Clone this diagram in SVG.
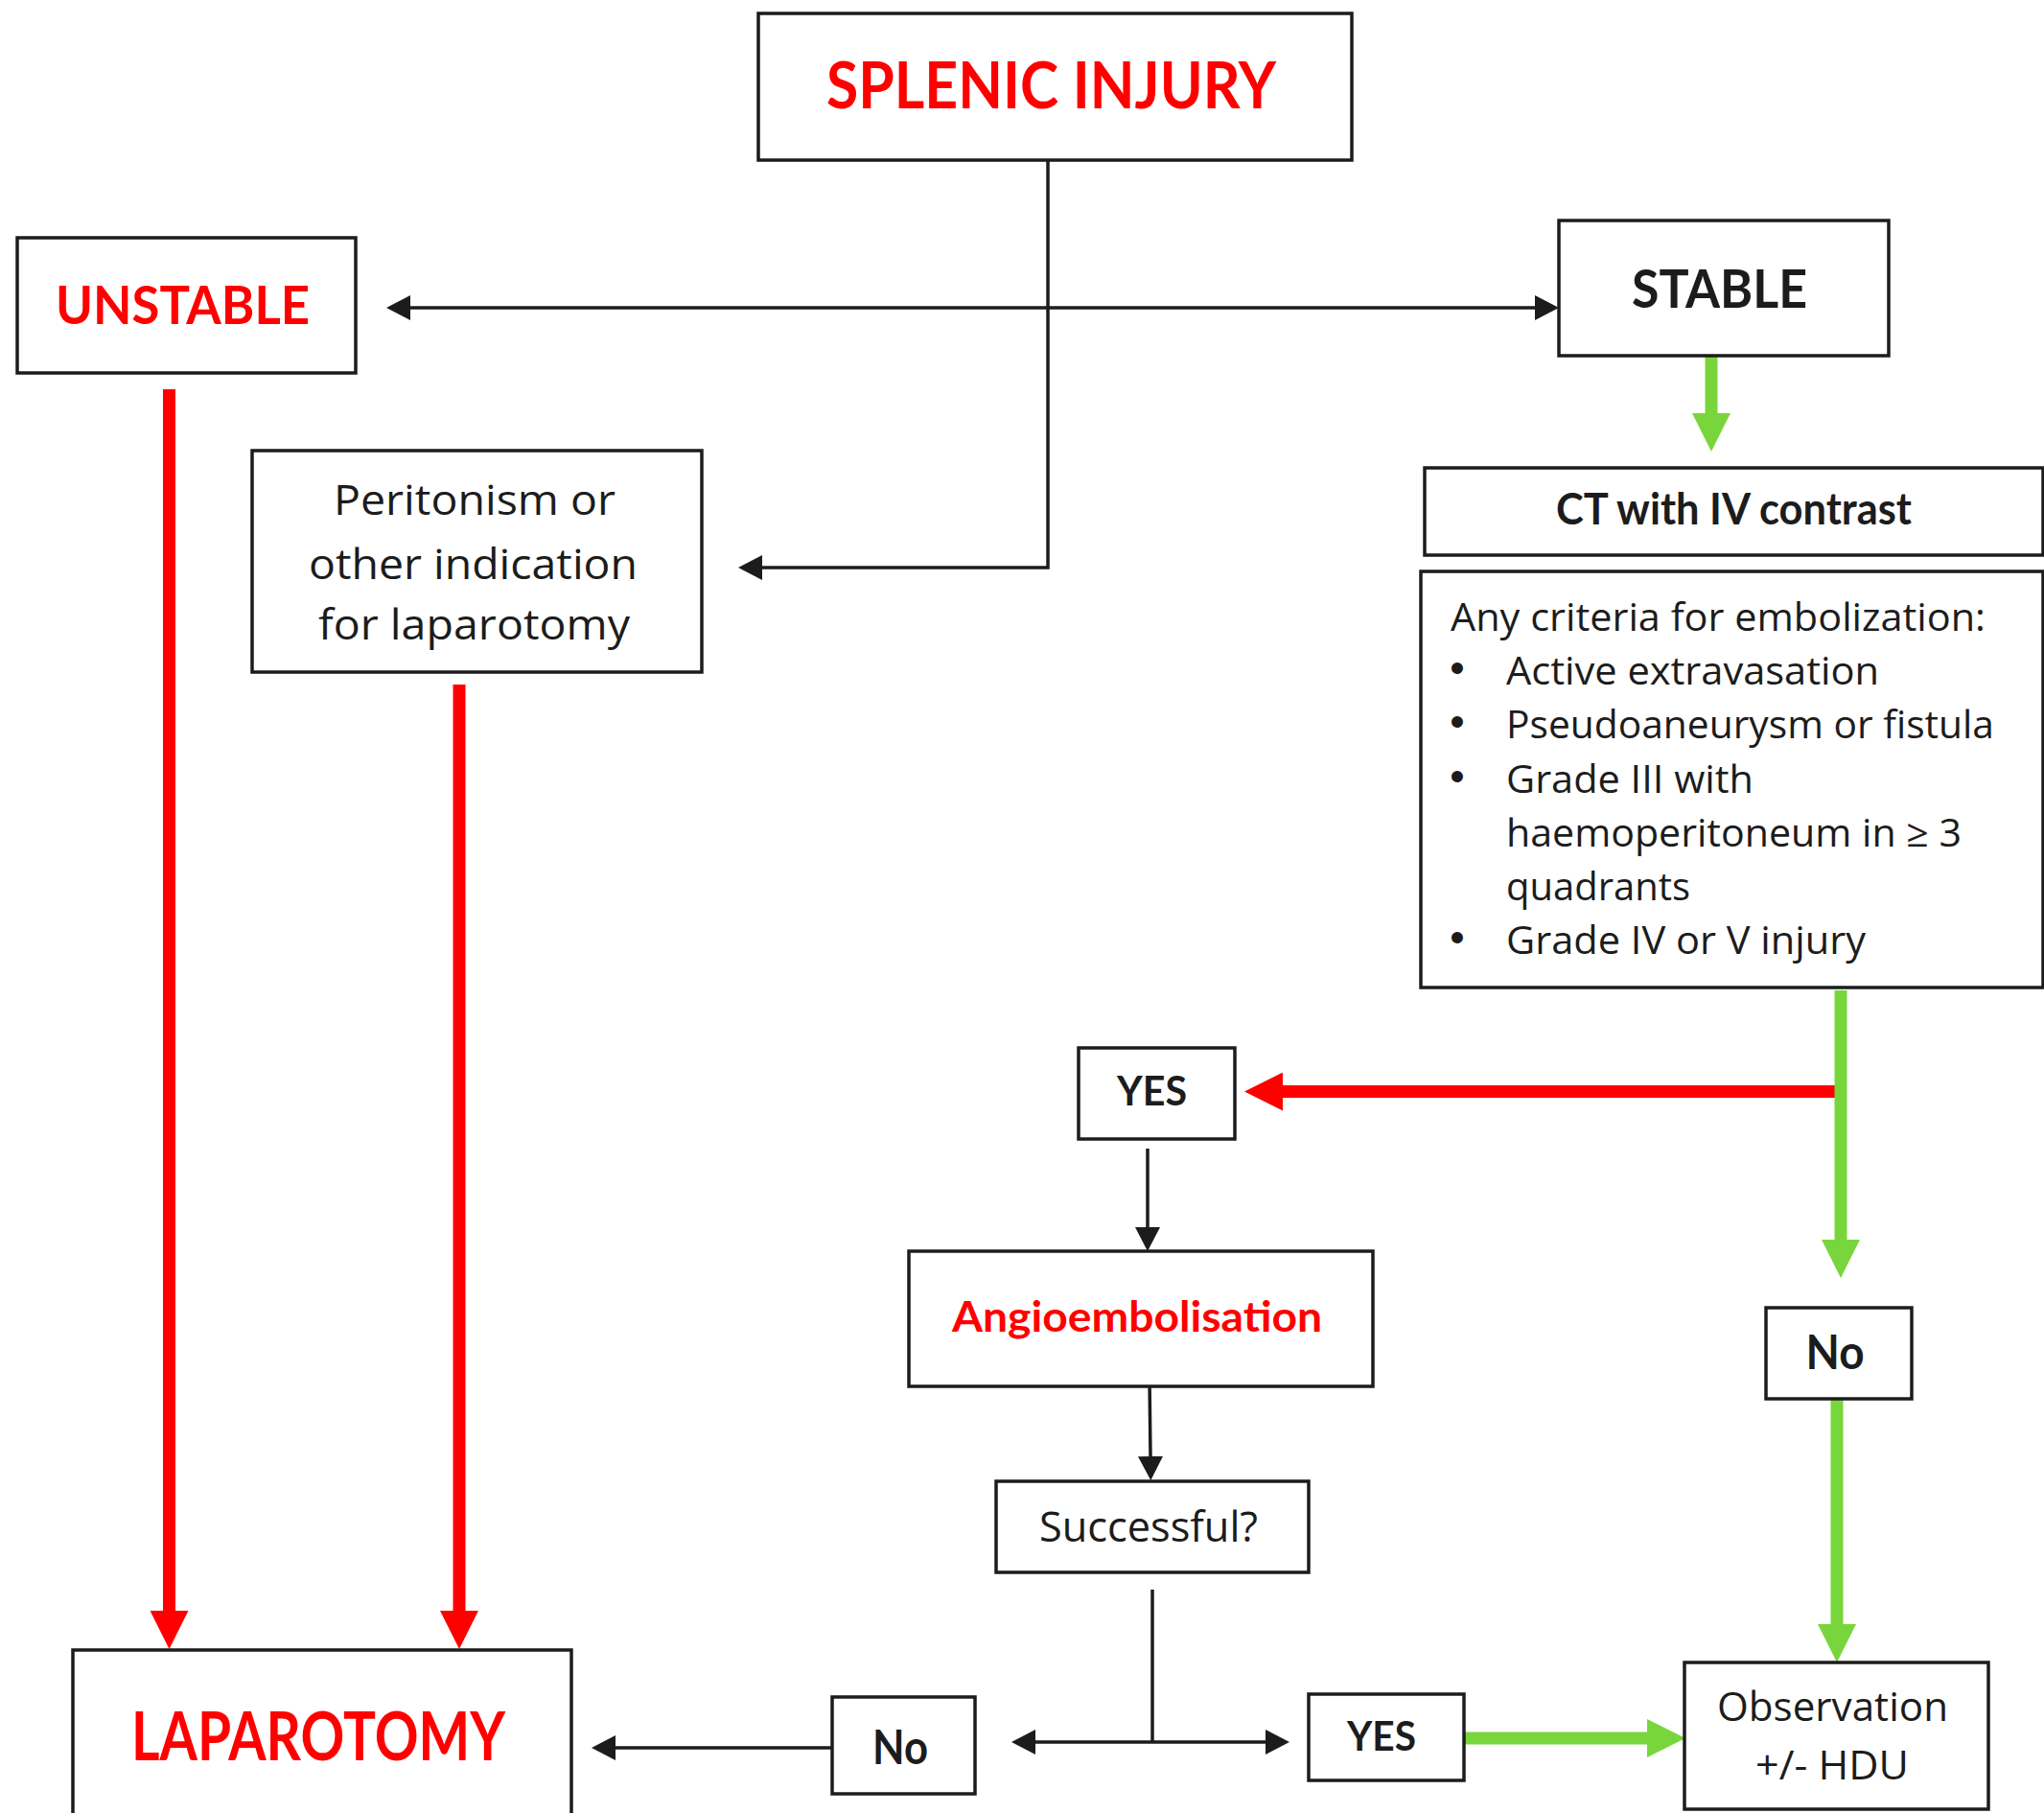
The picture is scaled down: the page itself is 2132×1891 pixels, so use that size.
<svg xmlns="http://www.w3.org/2000/svg" width="2132" height="1891" viewBox="0 0 2132 1891">
<style>
.box{fill:#fff;stroke:#1c1c1c;stroke-width:3.5}
.b{font-family:Lato,'Liberation Sans',sans-serif;font-weight:700}
.r{font-family:'Open Sans','Liberation Sans',sans-serif;font-weight:400}
.red{fill:#ff0000}
.k{fill:#1c1c1c}
.c{text-anchor:middle}
.ln{fill:none;stroke:#1c1c1c;stroke-width:3.5}
.rl{fill:none;stroke:#ff0000;stroke-width:13}
.gl{fill:none;stroke:#78d63c;stroke-width:13}
.bul{font-family:'Liberation Sans',sans-serif;font-size:44px;text-anchor:middle;fill:#1c1c1c}
</style>
<defs>
<marker id="ak" markerUnits="userSpaceOnUse" markerWidth="26" markerHeight="26" refX="0" refY="13" orient="auto-start-reverse"><path d="M0,0 L25,13 L0,26 Z" fill="#1c1c1c"/></marker>
<marker id="ar" markerUnits="userSpaceOnUse" markerWidth="41" markerHeight="40" refX="0" refY="20" orient="auto"><path d="M0,0 L40,20 L0,40 Z" fill="#ff0000"/></marker>
<marker id="ag" markerUnits="userSpaceOnUse" markerWidth="41" markerHeight="40" refX="0" refY="20" orient="auto"><path d="M0,0 L40,20 L0,40 Z" fill="#78d63c"/></marker>
</defs>
<rect width="2132" height="1891" fill="#fff"/>

<g id="connectors">
<path class="ln" d="M1093,167 V592 H795" marker-end="url(#ak)"/>
<line class="ln" x1="428" y1="321" x2="1601" y2="321" marker-start="url(#ak)" marker-end="url(#ak)"/>
<line class="rl" x1="176.5" y1="406" x2="176.5" y2="1680" marker-end="url(#ar)"/>
<line class="rl" x1="479" y1="714" x2="479" y2="1680" marker-end="url(#ar)"/>
<line class="gl" x1="1785" y1="362" x2="1785" y2="431" marker-end="url(#ag)"/>
<line class="rl" x1="1920" y1="1138.5" x2="1338" y2="1138.5" marker-end="url(#ar)"/>
<line class="gl" x1="1920" y1="1033" x2="1920" y2="1293" marker-end="url(#ag)"/>
<line class="ln" x1="1197" y1="1198" x2="1197" y2="1280" marker-end="url(#ak)"/>
<line class="ln" x1="1199" y1="1437" x2="1200" y2="1519" marker-end="url(#ak)"/>
<line class="ln" x1="1202" y1="1658" x2="1202" y2="1817"/>
<line class="ln" x1="1080" y1="1817" x2="1320" y2="1817" marker-start="url(#ak)" marker-end="url(#ak)"/>
<line class="ln" x1="868" y1="1823" x2="642" y2="1823" marker-end="url(#ak)"/>
<line class="gl" x1="1527" y1="1813" x2="1718" y2="1813" marker-end="url(#ag)"/>
<line class="gl" x1="1916" y1="1459" x2="1916" y2="1694" marker-end="url(#ag)"/>
</g>

<g id="splenic-injury">
<rect class="box" x="791" y="14" width="619" height="153"/>
<text class="b red c" x="1096.5" y="113" font-size="67" textLength="469" lengthAdjust="spacingAndGlyphs">SPLENIC INJURY</text>
</g>

<g id="unstable">
<rect class="box" x="18" y="248" width="353" height="141"/>
<text class="b red c" x="190.5" y="338" font-size="56" textLength="265" lengthAdjust="spacingAndGlyphs">UNSTABLE</text>
</g>

<g id="stable">
<rect class="box" x="1626" y="230" width="344" height="141"/>
<text class="b k c" x="1793.5" y="321" font-size="56" textLength="183" lengthAdjust="spacingAndGlyphs">STABLE</text>
</g>

<g id="peritonism">
<rect class="box" x="263" y="470" width="469" height="231"/>
<text class="r k c" x="495" y="537" font-size="43" textLength="294" lengthAdjust="spacingAndGlyphs">Peritonism or</text>
<text class="r k c" x="493.5" y="604" font-size="43" textLength="343" lengthAdjust="spacingAndGlyphs">other indication</text>
<text class="r k c" x="494.5" y="667" font-size="43" textLength="325" lengthAdjust="spacingAndGlyphs">for laparotomy</text>
</g>

<g id="ct-contrast">
<rect class="box" x="1486" y="488" width="645" height="91"/>
<text class="b k" x="1623" y="547" font-size="45" textLength="371" lengthAdjust="spacingAndGlyphs">CT with IV contrast</text>
</g>

<g id="criteria">
<rect class="box" x="1482" y="596" width="649" height="434"/>
<g class="r k" font-size="39.5">
<text x="1513" y="658" textLength="558" lengthAdjust="spacingAndGlyphs">Any criteria for embolization:</text>
<text class="bul" x="1520" y="712">•</text>
<text x="1571" y="714" textLength="389" lengthAdjust="spacingAndGlyphs">Active extravasation</text>
<text class="bul" x="1520" y="768">•</text>
<text x="1571" y="770" textLength="509" lengthAdjust="spacingAndGlyphs">Pseudoaneurysm or fistula</text>
<text class="bul" x="1520" y="825">•</text>
<text x="1571" y="827" textLength="258" lengthAdjust="spacingAndGlyphs">Grade III with</text>
<text x="1571" y="883" textLength="475" lengthAdjust="spacingAndGlyphs">haemoperitoneum in ≥ 3</text>
<text x="1571" y="939" textLength="192" lengthAdjust="spacingAndGlyphs">quadrants</text>
<text class="bul" x="1520" y="993">•</text>
<text x="1571" y="995" textLength="375" lengthAdjust="spacingAndGlyphs">Grade IV or V injury</text>
</g>
</g>

<g id="yes-embolize">
<rect class="box" x="1125" y="1093" width="163" height="95"/>
<text class="b k c" x="1201.5" y="1153" font-size="42" textLength="73" lengthAdjust="spacingAndGlyphs">YES</text>
</g>

<g id="angioembolisation">
<rect class="box" x="948" y="1305" width="484" height="141"/>
<text class="b red c" x="1186" y="1389" font-size="43" textLength="386" lengthAdjust="spacingAndGlyphs">Angioembolisation</text>
</g>

<g id="successful">
<rect class="box" x="1039" y="1545" width="326" height="95"/>
<text class="r k c" x="1198" y="1608" font-size="43" textLength="228" lengthAdjust="spacingAndGlyphs">Successful?</text>
</g>

<g id="no-criteria">
<rect class="box" x="1842" y="1364" width="152" height="95"/>
<text class="b k c" x="1914" y="1428" font-size="50" textLength="61" lengthAdjust="spacingAndGlyphs">No</text>
</g>

<g id="laparotomy">
<rect class="box" x="76" y="1721" width="520" height="200"/>
<text class="b red c" x="332" y="1836" font-size="70" textLength="390" lengthAdjust="spacingAndGlyphs">LAPAROTOMY</text>
</g>

<g id="no-success">
<rect class="box" x="868" y="1770" width="149" height="101"/>
<text class="b k c" x="939" y="1840" font-size="50" textLength="58" lengthAdjust="spacingAndGlyphs">No</text>
</g>

<g id="yes-success">
<rect class="box" x="1365" y="1767" width="162" height="90"/>
<text class="b k c" x="1441" y="1826" font-size="42" textLength="72" lengthAdjust="spacingAndGlyphs">YES</text>
</g>

<g id="observation">
<rect class="box" x="1757" y="1734" width="317" height="153"/>
<text class="r k c" x="1911.5" y="1795" font-size="42" textLength="241" lengthAdjust="spacingAndGlyphs">Observation</text>
<text class="r k c" x="1911" y="1856" font-size="42" textLength="160" lengthAdjust="spacingAndGlyphs">+/- HDU</text>
</g>
</svg>
